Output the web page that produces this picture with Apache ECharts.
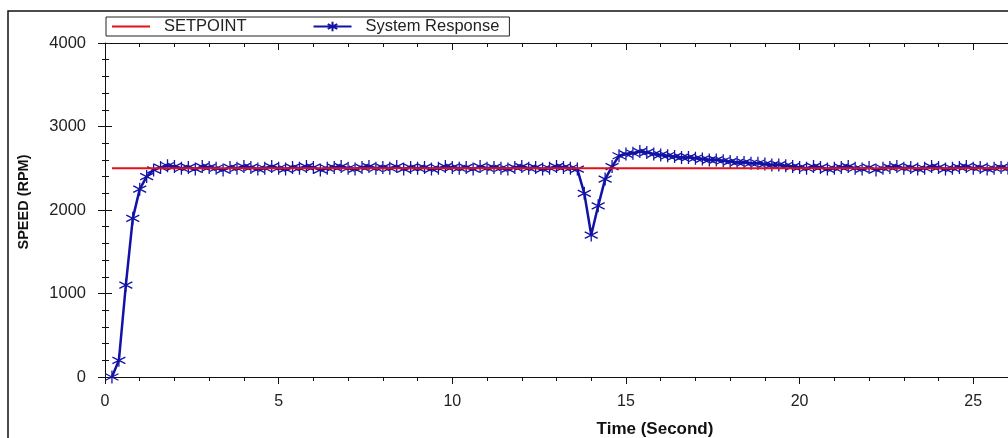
<!DOCTYPE html>
<html>
<head>
<meta charset="utf-8">
<script src="https://cdn.jsdelivr.net/npm/echarts@6/dist/echarts.min.js"></script>
<style>
  html, body { margin: 0; padding: 0; background: #fff; }
  #chart { width: 1008px; height: 438px; }
</style>
</head>
<body>
<div id="chart"></div>
<script>
// response sampled every 0.2 s, first sample at t = 0.2 s
const sampleStart = 0.2;
const sampleStep = 0.2;
const speed = [
  0, 200, 1100, 1900, 2250, 2400, 2480, 2510, 2530, 2520,       // 0.2 - 2.0
  2500, 2510, 2490, 2520, 2510, 2500, 2480, 2510, 2500, 2520,   // 2.2 - 4.0
  2510, 2490, 2500, 2520, 2500, 2490, 2510, 2500, 2520, 2510,   // 4.2 - 6.0
  2480, 2500, 2510, 2520, 2500, 2490, 2510, 2520, 2500, 2510,   // 6.2 - 8.0
  2500, 2520, 2490, 2510, 2500, 2510, 2490, 2500, 2520, 2510,   // 8.2 - 10.0
  2500, 2510, 2490, 2520, 2500, 2510, 2500, 2490, 2510, 2520,   // 10.2 - 12.0
  2500, 2510, 2490, 2500, 2520, 2510, 2500, 2490, 2200, 1700,   // 12.2 - 14.0
  2050, 2370, 2520, 2650, 2670, 2680, 2700, 2690, 2670, 2660,   // 14.2 - 16.0
  2650, 2640, 2630, 2630, 2620, 2610, 2600, 2600, 2590, 2580,   // 16.2 - 18.0
  2570, 2570, 2560, 2560, 2550, 2540, 2540, 2530, 2520, 2510,   // 18.2 - 20.0
  2500, 2520, 2510, 2490, 2500, 2510, 2520, 2500, 2490, 2510,   // 20.2 - 22.0
  2480, 2500, 2510, 2520, 2500, 2510, 2490, 2500, 2520, 2510,   // 22.2 - 24.0
  2490, 2500, 2510, 2520, 2500, 2510, 2490, 2500, 2510, 2500    // 24.2 - 26.0
];
const setpointTime = [0.2, 26];
const setpointValue = 2500;
const seriesNames = ['SETPOINT', 'System Response'];

const responseData = speed.map((v, i) => [+(sampleStart + i * sampleStep).toFixed(1), v]);
const setpointData = setpointTime.map(t => [t, setpointValue]);

const FONT = '"Liberation Sans", Arial, sans-serif';
const INK = '#111';
const BLUE = '#1212a6';
const RED = '#e3101a';
const asterisk = 'path://M5,0L5,10M0.7,2.5L9.3,7.5M0.7,7.5L9.3,2.5';

const tickStyle = { color: INK, width: 1 };
const plain = v => String(v);

const option = {
  animation: false,
  backgroundColor: '#fff',
  grid: { left: 105, right: -7, top: 43, bottom: 61 },
  legend: {
    data: [
      // plain line only, no marker
      { name: seriesNames[0], itemStyle: { color: 'rgba(0,0,0,0)', borderWidth: 0 } },
      { name: seriesNames[1] }
    ],
    left: 106, top: 17,
    itemWidth: 38, itemHeight: 12, itemGap: 66,
    padding: [1, 10, 1, 5],
    borderColor: '#222', borderWidth: 1, backgroundColor: '#fff',
    textStyle: { fontSize: 16.5, color: '#222', fontFamily: FONT, padding: [0, 0, 0, 9] }
  },
  xAxis: [{
    type: 'value', min: 0, max: 26, interval: 5, position: 'bottom',
    axisLine: { show: true, onZero: false, lineStyle: tickStyle },
    axisTick: { show: true, length: 7, lineStyle: tickStyle },
    minorTick: { show: true, splitNumber: 5, length: 4, lineStyle: tickStyle },
    splitLine: { show: false },
    axisLabel: { color: '#222', fontSize: 16, fontFamily: FONT, margin: 17, showMaxLabel: false, formatter: plain }
  }, {
    type: 'value', min: 0, max: 26, interval: 5, position: 'top',
    axisLine: { show: true, onZero: false, lineStyle: tickStyle },
    axisTick: { show: true, inside: true, length: 7, lineStyle: tickStyle },
    minorTick: { show: true, splitNumber: 5, length: 4, lineStyle: tickStyle },
    splitLine: { show: false },
    axisLabel: { show: false }
  }],
  yAxis: [{
    type: 'value', min: 0, max: 4000, interval: 1000, position: 'left',
    axisLine: { show: true, onZero: false, lineStyle: tickStyle },
    axisTick: { show: true, length: 7, lineStyle: tickStyle },
    minorTick: { show: true, splitNumber: 5, length: 3, lineStyle: tickStyle },
    splitLine: { show: false },
    axisLabel: { color: '#222', fontSize: 16.5, fontFamily: FONT, margin: 19, formatter: plain }
  }, {
    type: 'value', min: 0, max: 4000, interval: 1000, position: 'left', offset: 0,
    axisLine: { show: false, onZero: false },
    axisTick: { show: true, inside: true, length: 7, lineStyle: tickStyle },
    minorTick: { show: true, splitNumber: 5, length: 4, lineStyle: tickStyle },
    splitLine: { show: false },
    axisLabel: { show: false }
  }],
  series: [{
    name: seriesNames[0],
    type: 'line',
    data: setpointData,
    symbol: 'none',
    lineStyle: { color: RED, width: 2 },
    itemStyle: { color: RED },
    z: 4
  }, {
    name: seriesNames[1],
    type: 'line',
    data: responseData,
    symbol: asterisk,
    symbolSize: 13,
    showAllSymbol: true,
    lineStyle: { color: BLUE, width: 2.5 },
    itemStyle: { color: BLUE, borderColor: BLUE, borderWidth: 1.3 },
    z: 3
  }],
  graphic: [{
    type: 'polyline',
    shape: { points: [[8, 438], [8, 11], [1008, 11]] },
    style: { stroke: INK, lineWidth: 1.5, fill: null }
  }, {
    type: 'text', x: 24, y: 202, rotation: Math.PI / 2,
    style: { text: 'SPEED (RPM)', font: 'bold 14.5px ' + FONT, align: 'center', verticalAlign: 'middle', fill: INK }
  }, {
    type: 'text', x: 655, y: 429,
    style: { text: 'Time (Second)', font: 'bold 17px ' + FONT, align: 'center', verticalAlign: 'middle', fill: INK }
  }]
};

const chart = echarts.init(document.getElementById('chart'));
chart.setOption(option);
</script>
</body>
</html>
